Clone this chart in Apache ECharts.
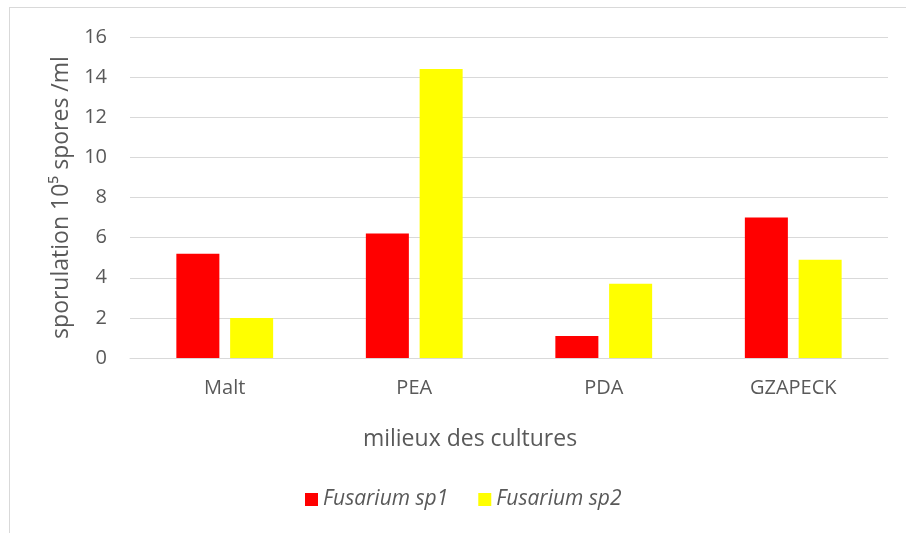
<!DOCTYPE html>
<html>
<head>
<meta charset="utf-8">
<script src="https://cdn.jsdelivr.net/npm/echarts@6/dist/echarts.min.js"></script>
<style>
  html, body { margin: 0; padding: 0; background: #fff; }
  #frame {
    position: absolute; left: 9px; top: 7px; width: 910px; height: 540px;
    border: 1px solid #d9d9d9; box-sizing: border-box;
  }
  #chart { position: absolute; left: 0; top: 0; width: 906px; height: 533px; }
</style>
</head>
<body>
<div id="frame"></div>
<div id="chart"></div>
<script>
const categories = ['Malt', 'PEA', 'PDA', 'GZAPECK'];
const sp1 = [5.2, 6.2, 1.1, 7.0];
const sp2 = [2.0, 14.4, 3.7, 4.9];

const font = '"Open Sans", "Liberation Sans", sans-serif';
const grey = '#595959';

let myChart = echarts.init(document.getElementById('chart'));
let option = {
  animation: false,
  textStyle: { fontFamily: font },
  grid: { left: 130, right: 18, top: 37, bottom: 175 },
  // x axis title sits a bit left of the plot centre, like the original
  title: {
    text: 'milieux des cultures',
    left: 465,
    top: 423,
    textAlign: 'center',
    textStyle: { color: grey, fontSize: 23, fontWeight: 'normal', fontFamily: font }
  },
  legend: {
    left: 300,
    top: 484,
    itemWidth: 13,
    itemHeight: 13,
    itemGap: 30,
    icon: 'rect',
    textStyle: { color: grey, fontSize: 21, fontStyle: 'italic', fontFamily: font },
    data: ['Fusarium sp1', 'Fusarium sp2']
  },
  xAxis: {
    type: 'category',
    data: categories,
    axisTick: { show: false },
    axisLine: { lineStyle: { color: '#d9d9d9', width: 1 } },
    axisLabel: { color: grey, fontSize: 20, margin: 20, fontFamily: font }
  },
  yAxis: {
    type: 'value',
    min: 0,
    max: 16,
    interval: 2,
    name: 'sporulation 10\u2075 spores /ml',
    nameLocation: 'middle',
    nameGap: 52,
    nameTextStyle: { color: grey, fontSize: 23, fontFamily: font },
    splitLine: { lineStyle: { color: '#d9d9d9', width: 1 } },
    axisLine: { show: false },
    axisTick: { show: false },
    axisLabel: { color: grey, fontSize: 20, margin: 23, fontFamily: font }
  },
  series: [
    {
      name: 'Fusarium sp1',
      type: 'bar',
      data: sp1,
      barWidth: '22.7%',
      barGap: '25%',
      itemStyle: { color: '#ff0000' }
    },
    {
      name: 'Fusarium sp2',
      type: 'bar',
      data: sp2,
      barWidth: '22.7%',
      itemStyle: { color: '#ffff00' }
    }
  ]
};
myChart.setOption(option);
</script>
</body>
</html>
